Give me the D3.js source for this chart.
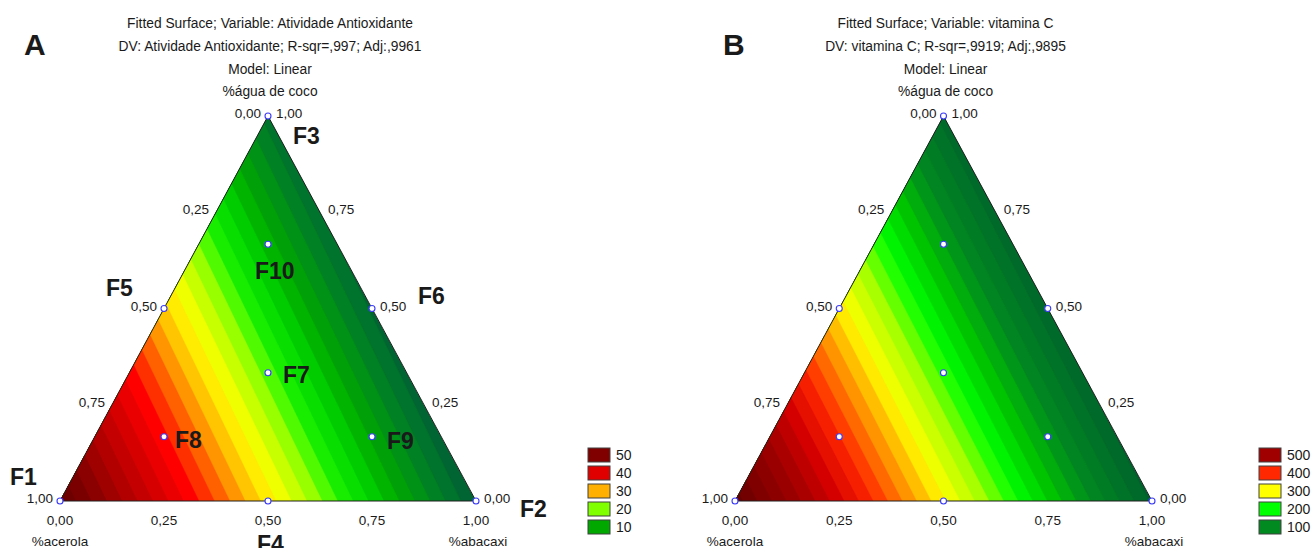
<!DOCTYPE html>
<html>
<head>
<meta charset="UTF-8">
<title>Fitted Surface</title>
<script src="https://d3js.org/d3.v7.min.js"></script>
<style>
  body { margin: 0; background: #ffffff; }
  text { font-family: "Liberation Sans", Arial, sans-serif; fill: #1a1a1a; }
</style>
</head>
<body>
<script>
// ---- data ----
const components = ["%acerola", "%abacaxi", "%água de coco"];
const tickValues = [0, 0.25, 0.5, 0.75, 1];

// design points (mixture fractions)
const pointNames = ["F1", "F2", "F3", "F4", "F5", "F6", "F7", "F8", "F9", "F10"];
const pAcerola   = [1, 0, 0, 0.5, 0.5, 0, 0.3333, 0.6667, 0.1667, 0.1667];
const pAbacaxi   = [0, 1, 0, 0.5, 0, 0.5, 0.3333, 0.1667, 0.6667, 0.1667];
const pAgua      = [0, 0, 1, 0, 0.5, 0.5, 0.3333, 0.1667, 0.1667, 0.6667];

// fitted linear model: value at each pure component (acerola, abacaxi, agua)
const fitA = [54, 0, 3];
const fitB = [590, 15, 30];
const stepA = 2;
const stepB = 20;

const titleA = ["Fitted Surface; Variable: Atividade Antioxidante",
                "DV: Atividade Antioxidante; R-sqr=,997; Adj:,9961",
                "Model: Linear"];
const titleB = ["Fitted Surface; Variable: vitamina C",
                "DV: vitamina C; R-sqr=,9919; Adj:,9895",
                "Model: Linear"];

const colorValuesA = [0, 4, 8, 10, 14, 18, 20, 24, 26, 28.5, 30, 33, 37, 40, 48, 50, 54];
const colorHexA = ["#005e34", "#007a2a", "#009a10", "#00a800", "#00d800", "#20f400", "#80ff00",
                   "#e0ff00", "#ffff00", "#ffd000", "#ffb000", "#ff6000", "#ff0000", "#e00000",
                   "#960000", "#800000", "#680000"];
const colorValuesB = [0, 100, 150, 200, 250, 300, 350, 400, 450, 500, 600];
const colorHexB = ["#005c30", "#008a20", "#00c400", "#00ff00", "#a8ff00", "#ffff00",
                   "#ff9400", "#ff2800", "#d40000", "#a00000", "#600000"];

const legendA = [50, 40, 30, 20, 10];
const legendB = [500, 400, 300, 200, 100];

// label offsets for F-names (layout only)
const labelDx = [-50, 44, 25, -11, -58, 46, 15, 11, 15, -13];
const labelDy = [-16, 16, 28, 51, -13, -5, 10, 11, 12, 35];

// ---- drawing ----
const width = 1312, height = 548;
const svg = d3.select("body").append("svg")
    .attr("width", width).attr("height", height);

const fmt = d3.formatLocale({decimal: ",", thousands: ".", grouping: [3], currency: ["", ""]}).format(".2f");

function drawPanel(p) {
    const g = svg.append("g");
    const x = d3.scaleLinear().domain([0, 1]).range([p.left, p.right]);
    const y = d3.scaleLinear().domain([0, 1]).range([p.bottom, p.top]);
    const pos = (ac, ab, ag) => [x(ab + ag / 2), y(ag)];
    const value = (ac, ab, ag) => p.fit[0] * ac + p.fit[1] * ab + p.fit[2] * ag;
    const color = d3.scaleLinear().domain(p.colorValues).range(p.colorHex).clamp(true);

    const corners = [pos(1, 0, 0), pos(0, 1, 0), pos(0, 0, 1)];

    // clip to triangle
    g.append("clipPath").attr("id", "clip" + p.letter)
        .append("path").attr("d", "M" + corners.join("L") + "Z");

    // sample the surface on a pixel grid and build filled contour bands
    const x0 = p.left - 4, y0 = p.top - 4;
    const n = Math.ceil(p.right - p.left + 8), m = Math.ceil(p.bottom - p.top + 8);
    const values = new Float64Array(n * m);
    for (let j = 0; j < m; j++) {
        const ag = y.invert(y0 + j);
        for (let i = 0; i < n; i++) {
            const ab = x.invert(x0 + i) - ag / 2;
            values[i + j * n] = value(1 - ab - ag, ab, ag);
        }
    }
    const vmin = d3.min(p.fit), vmax = d3.max(p.fit);
    const base = Math.floor(vmin / p.step) * p.step;
    const levels = d3.range(base + p.step, vmax, p.step);
    const bands = d3.contours().size([n, m]).thresholds(levels)(values);
    const path = d3.geoPath(d3.geoIdentity().translate([x0, y0]));

    const surf = g.append("g").attr("clip-path", "url(#clip" + p.letter + ")");
    surf.append("path")
        .attr("d", "M" + corners.join("L") + "Z")
        .attr("fill", color(base + p.step / 2));
    surf.selectAll("path.band")
        .data(bands)
        .join("path")
        .attr("class", "band")
        .attr("d", path)
        .attr("fill", d => color(d.value + p.step / 2))
        .attr("stroke", d => color(d.value + p.step / 2))
        .attr("stroke-width", 0.4);

    // triangle outline
    g.append("path")
        .attr("d", "M" + corners.join("L") + "Z")
        .attr("fill", "none")
        .attr("stroke", "#202020")
        .attr("stroke-width", 1);

    // titles
    const cx = x(0.5) + 2;
    g.selectAll("text.title")
        .data(p.title.concat([components[2]]))
        .join("text")
        .attr("class", "title")
        .attr("x", cx)
        .attr("y", (d, i) => 28 + i * 23 - (i === 3 ? 1 : 0))
        .attr("text-anchor", "middle")
        .attr("font-size", 13.8)
        .text(d => d);

    g.append("text")
        .attr("x", p.letterX).attr("y", 55)
        .attr("font-size", 30).attr("font-weight", "bold")
        .attr("fill", "#000")
        .text(p.letter);

    // ticks: left edge = acerola, right edge = agua, bottom = abacaxi
    tickValues.forEach(v => {
        const l = pos(v, 0, 1 - v);
        g.append("text").attr("x", l[0] - 7).attr("y", l[1] + 2)
            .attr("text-anchor", "end").attr("font-size", 13.5).text(fmt(v));
        const r = pos(0, 1 - v, v);
        g.append("text").attr("x", r[0] + 8).attr("y", r[1] + 2)
            .attr("text-anchor", "start").attr("font-size", 13.5).text(fmt(v));
        const b = pos(1 - v, v, 0);
        g.append("text").attr("x", b[0]).attr("y", b[1] + 24)
            .attr("text-anchor", "middle").attr("font-size", 13.5).text(fmt(v));
    });
    g.append("text").attr("x", corners[0][0]).attr("y", 546)
        .attr("text-anchor", "middle").attr("font-size", 13.5).text(components[0]);
    g.append("text").attr("x", corners[1][0] + 2).attr("y", 546)
        .attr("text-anchor", "middle").attr("font-size", 13.5).text(components[1]);

    // design points
    const pts = pointNames.map((name, i) => ({name, i, xy: pos(pAcerola[i], pAbacaxi[i], pAgua[i])}));
    g.selectAll("circle.pt")
        .data(pts)
        .join("circle")
        .attr("class", "pt")
        .attr("cx", d => d.xy[0]).attr("cy", d => d.xy[1])
        .attr("r", 3)
        .attr("fill", "#ffffff")
        .attr("stroke", "#3a3aff")
        .attr("stroke-width", 1.1);

    if (p.showNames) {
        g.selectAll("text.fname")
            .data(pts)
            .join("text")
            .attr("class", "fname")
            .attr("x", d => d.xy[0] + labelDx[d.i])
            .attr("y", d => d.xy[1] + labelDy[d.i])
            .attr("font-size", 23)
            .attr("font-weight", "bold")
            .attr("fill", "#000")
            .text(d => d.name);
    }

    // legend
    const leg = g.selectAll("g.legend")
        .data(p.legend)
        .join("g")
        .attr("class", "legend")
        .attr("transform", (d, i) => `translate(${p.legendX}, ${448 + i * 18})`);
    leg.append("rect")
        .attr("width", 22).attr("height", 14)
        .attr("fill", d => color(d))
        .attr("stroke", "#404040").attr("stroke-width", 1);
    leg.append("text")
        .attr("x", 28).attr("y", 12)
        .attr("font-size", 14)
        .text(d => d);
}

drawPanel({letter: "A", letterX: 24, left: 60, right: 476, top: 116, bottom: 501,
           fit: fitA, step: stepA, colorValues: colorValuesA, colorHex: colorHexA,
           title: titleA, legend: legendA, legendX: 588, showNames: true});
drawPanel({letter: "B", letterX: 723, left: 735, right: 1152, top: 116, bottom: 501,
           fit: fitB, step: stepB, colorValues: colorValuesB, colorHex: colorHexB,
           title: titleB, legend: legendB, legendX: 1259, showNames: false});
</script>
</body>
</html>
